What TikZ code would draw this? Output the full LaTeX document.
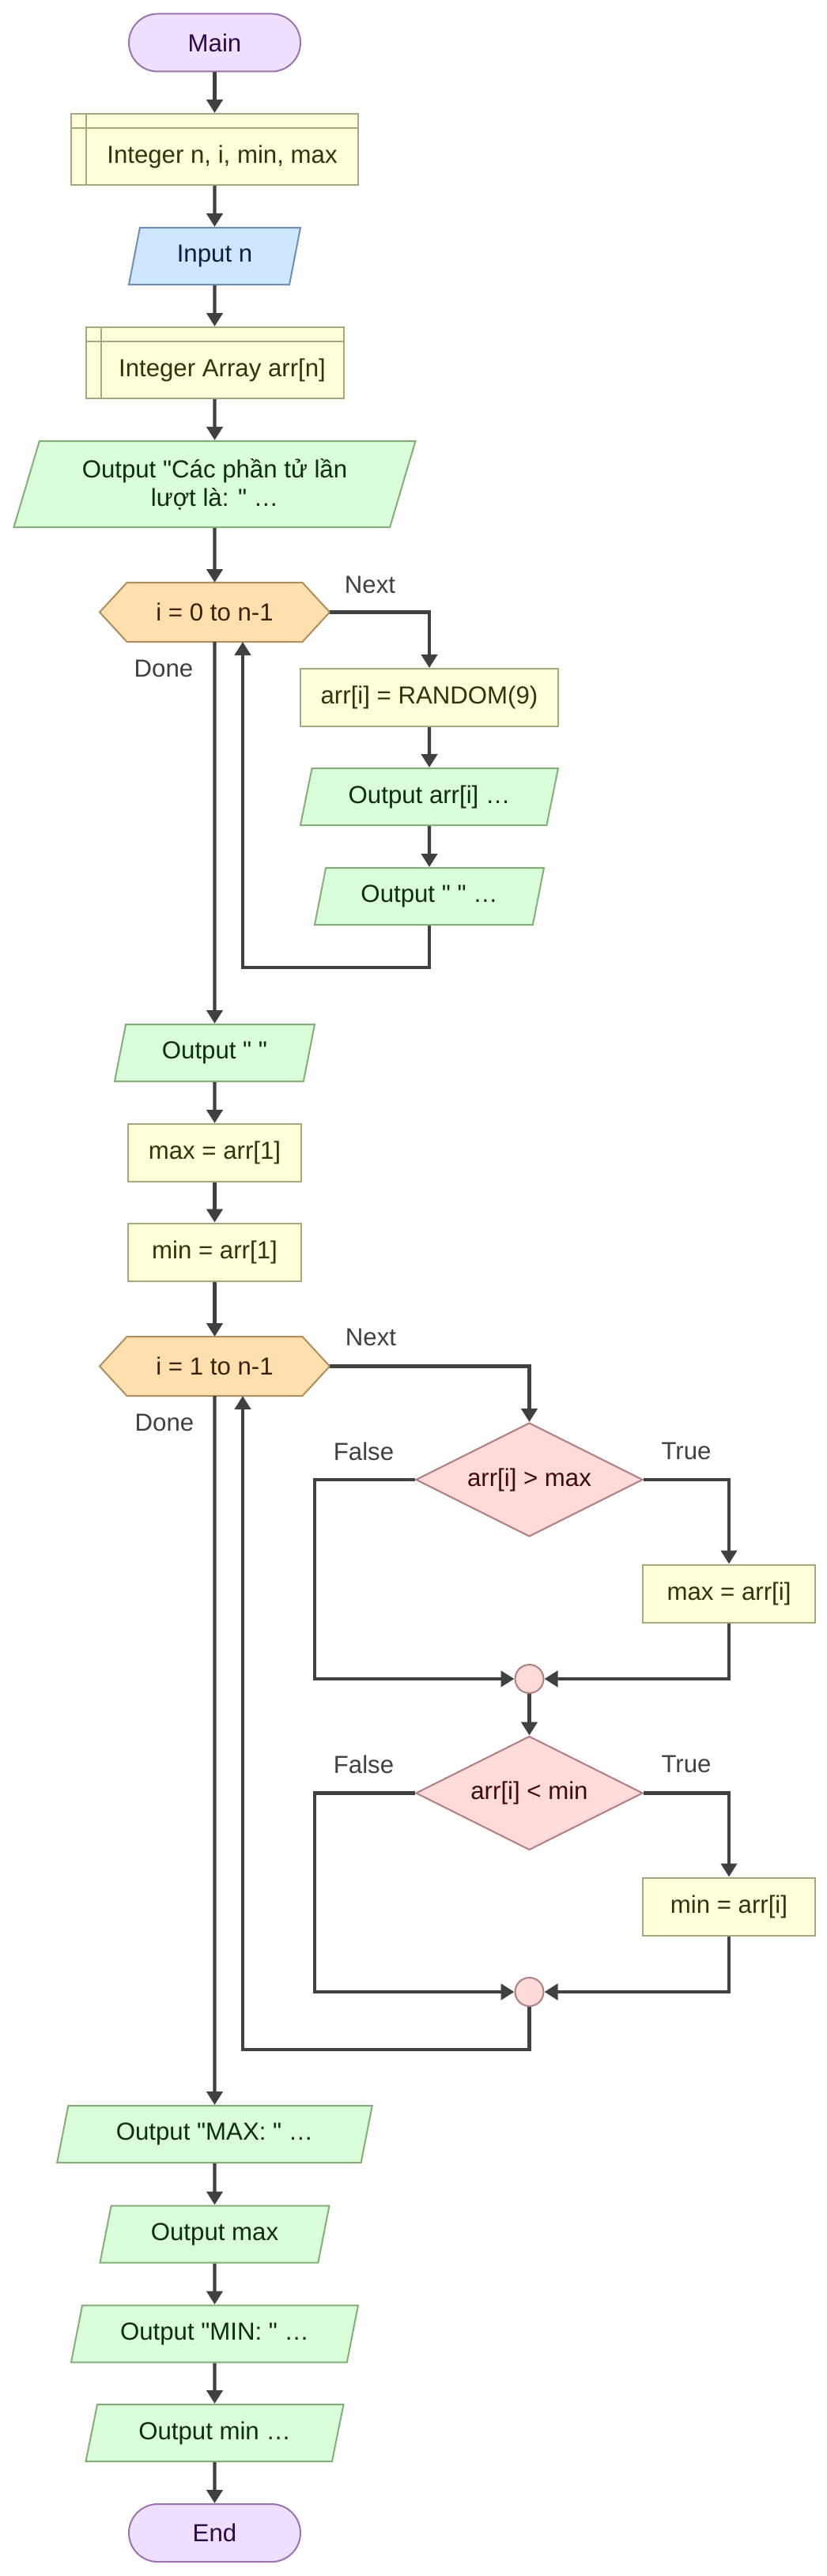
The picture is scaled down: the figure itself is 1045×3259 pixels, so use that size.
\documentclass[tikz,border=0pt]{standalone}
\usepackage{fontspec}
\newfontfamily\lsans{Liberation Sans}
\usetikzlibrary{shapes.geometric,arrows.meta,calc}
\pgfdeclarelayer{background}
\pgfsetlayers{background,main}
\definecolor{termf}{HTML}{EEDFFD}
\definecolor{termb}{HTML}{9A74AE}
\definecolor{termt}{HTML}{2A0A48}
\definecolor{procf}{HTML}{FFFFDA}
\definecolor{procb}{HTML}{A8A87E}
\definecolor{proct}{HTML}{33330A}
\definecolor{inf}{HTML}{CFE6FF}
\definecolor{inb}{HTML}{6E8DB8}
\definecolor{intx}{HTML}{0A2040}
\definecolor{outf}{HTML}{D9FED9}
\definecolor{outb}{HTML}{84AE78}
\definecolor{outt}{HTML}{0A300A}
\definecolor{hexf}{HTML}{FFDFAE}
\definecolor{hexb}{HTML}{B08E5E}
\definecolor{hext}{HTML}{3A2200}
\definecolor{decf}{HTML}{FFDADA}
\definecolor{decb}{HTML}{AE8080}
\definecolor{dect}{HTML}{400A0A}
\definecolor{arrc}{HTML}{404040}
\definecolor{labc}{HTML}{404040}
\newcommand\fs{\lsans\fontsize{15.6pt}{18pt}\selectfont}
\newcommand\hexbg[1]{\begin{pgfonlayer}{background}\draw[hexs] (#1.west) -- ([xshift=17.25pt]#1.north west) -- ([xshift=-17.25pt]#1.north east) -- (#1.east) -- ([xshift=-17.25pt]#1.south east) -- ([xshift=17.25pt]#1.south west) -- cycle;\end{pgfonlayer}}
\newcommand\decltext[1]{\hspace*{9.5pt}\raisebox{-4.5pt}[\height][\depth]{#1}}
\tikzset{
  base/.style={inner sep=0pt, font=\fs, line width=1pt, align=center},
  term/.style={base, rectangle, rounded corners=18.25pt, minimum width=108.5pt, minimum height=36.5pt, draw=termb, fill=termf, text=termt},
  proc/.style={base, rectangle, minimum height=36.5pt, draw=procb, fill=procf, text=proct},
  decl/.style={proc, minimum height=45pt, path picture={
     \draw[procb, line width=1pt] ([xshift=9.5pt]path picture bounding box.north west) -- ([xshift=9.5pt]path picture bounding box.south west);
     \draw[procb, line width=1pt] ([yshift=-9pt]path picture bounding box.north west) -- ([yshift=-9pt]path picture bounding box.north east);}},
  io/.style={base, trapezium, trapezium left angle=63.43, trapezium right angle=116.57, trapezium stretches body, minimum height=36pt, draw=outb, fill=outf, text=outt},
  inio/.style={io, draw=inb, fill=inf, text=intx},
  loopn/.style={base, rectangle, minimum width=144.5pt, minimum height=36.5pt, text=hext},
  hexs/.style={line width=1pt, draw=hexb, fill=hexf},
  dec/.style={base, diamond, aspect=2, minimum width=143.5pt, minimum height=72pt, draw=decb, fill=decf, text=dect},
  junc/.style={circle, minimum size=18pt, inner sep=0pt, line width=1pt, draw=decb, fill=decf},
  lab/.style={font=\fs, text=labc, inner sep=0pt},
  arr/.style={line width=2.2pt, draw=arrc, -{Triangle[width=10pt,length=8.5pt]}},
}
\begin{document}
\begin{tikzpicture}[x=0.5pt,y=-0.5pt]
\begin{pgfonlayer}{background}
\fill[white] (0,0) rectangle (1045,3259);
\end{pgfonlayer}
\useasboundingbox (0,0) rectangle (1045,3259);

% main column
\node[term] (main) at (271.5,54) {Main};
\node[decl, minimum width=181.5pt] (dA) at (271.5,189) {\decltext{Integer n, i, min, max}};
\node[inio, minimum width=108.5pt] (inpn) at (271.5,324) {Input n};
\node[decl, minimum width=163pt] (dB) at (271.5,459) {\decltext{Integer Array arr[n]}};
\node[io, minimum width=254pt, minimum height=54.5pt] (o1) at (271.5,612.5) {Output "Các phần tử lần\\lượt là: " …};
\node[loopn] (h1) at (271.5,774.5) {i = 0 to n-1};
\hexbg{h1}

% first loop body
\node[proc, minimum width=163pt] (rnd) at (543,882.5) {arr[i] = RANDOM(9)};
\node[io, minimum width=163pt] (o2) at (543,1008) {Output arr[i] …};
\node[io, minimum width=145pt] (o3) at (543,1134) {Output " " …};
\coordinate (lb1) at (307,1224);

\node[io, minimum width=126.5pt] (o4) at (271.5,1332) {Output " "};
\node[proc, minimum width=109.5pt] (mx1) at (271.5,1458.5) {max = arr[1]};
\node[proc, minimum width=109.5pt] (mn1) at (271.5,1584) {min = arr[1]};
\node[loopn] (h2) at (271.5,1728.5) {i = 1 to n-1};
\hexbg{h2}

% second loop body
\node[dec] (d1) at (669.5,1872) {arr[i] > max};
\node[proc, minimum width=108.75pt] (mxi) at (922,2016) {max = arr[i]};
\node[junc] (c1) at (669.5,2124) {};
\coordinate (f1) at (398,1872);
\node[dec] (d2) at (669.5,2268.5) {arr[i] < min};
\node[proc, minimum width=108.75pt] (mni) at (922,2412) {min = arr[i]};
\node[junc] (c2) at (669.5,2520) {};
\coordinate (f2) at (398,2268.5);
\coordinate (lb2) at (307,2593);

\node[io, minimum width=199.25pt] (o5) at (271.5,2700) {Output "MAX: " …};
\node[io, minimum width=145pt] (o6) at (271.5,2826.5) {Output max};
\node[io, minimum width=181.5pt] (o7) at (271.5,2952.5) {Output "MIN: " …};
\node[io, minimum width=163pt] (o8) at (271.5,3078) {Output min …};
\node[term] (endn) at (271.5,3204.5) {End};

% labels
\node[lab] (nx1) at (468,740) {Next};
\node[lab] (dn1) at (207,846) {Done};
\node[lab] (nx2) at (469,1692) {Next};
\node[lab] (dn2) at (208,1800) {Done};
\node[lab] (fa1) at (460,1836) {False};
\node[lab] (tr1) at (868,1836) {True};
\node[lab] (fa2) at (460,2232) {False};
\node[lab] (tr2) at (868,2232) {True};

% connectors
\draw[arr] (main) -- (dA);
\draw[arr] (dA) -- (inpn);
\draw[arr] (inpn) -- (dB);
\draw[arr] (dB) -- (o1);
\draw[arr] (o1) -- (h1);
\draw[arr] (h1.east) -| (rnd.north);
\draw[arr] (rnd) -- (o2);
\draw[arr] (o2) -- (o3);
\draw[arr] (o3.south) |- (lb1) -- (lb1 |- h1.south);
\draw[arr] (h1.south) -- (o4.north);
\draw[arr] (o4) -- (mx1);
\draw[arr] (mx1) -- (mn1);
\draw[arr] (mn1) -- (h2);
\draw[arr] (h2.east) -| (d1.north);
\draw[arr] (d1.east) -| (mxi.north);
\draw[arr] (d1.west) -- (f1) |- (c1.west);
\draw[arr] (mxi.south) |- (c1.east);
\draw[arr] (c1) -- (d2);
\draw[arr] (d2.east) -| (mni.north);
\draw[arr] (d2.west) -- (f2) |- (c2.west);
\draw[arr] (mni.south) |- (c2.east);
\draw[arr] (c2.south) |- (lb2) -- (lb2 |- h2.south);
\draw[arr] (h2.south) -- (o5.north);
\draw[arr] (o5) -- (o6);
\draw[arr] (o6) -- (o7);
\draw[arr] (o7) -- (o8);
\draw[arr] (o8) -- (endn);
\end{tikzpicture}
\end{document}
